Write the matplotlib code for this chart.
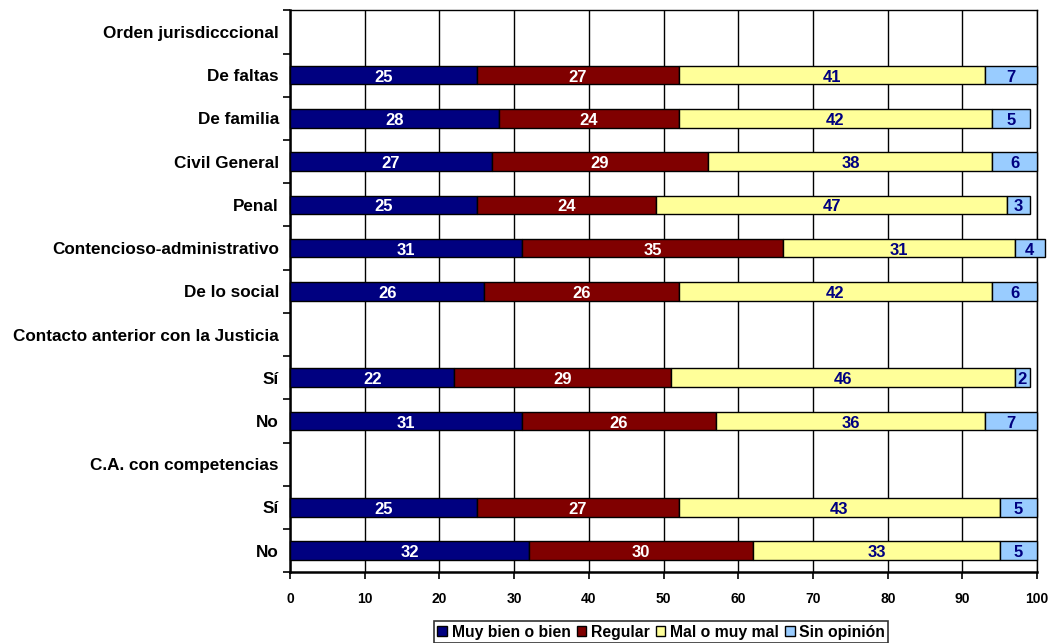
import numpy as np
import matplotlib
matplotlib.use("Agg")
import matplotlib.pyplot as plt
from matplotlib.ticker import FixedLocator, MultipleLocator

plt.rcParams['font.family'] = ['Liberation Sans', 'DejaVu Sans']
plt.rcParams['font.weight'] = 'bold'

categories = [
    "Orden jurisdicccional", "De faltas", "De familia", "Civil General", "Penal",
    "Contencioso-administrativo", "De lo social",
    "Contacto anterior con la Justicia", "Sí", "No",
    "C.A. con competencias", "Sí", "No",
]
# None marks heading rows that carry no bar
muy_bien = [None, 25, 28, 27, 25, 31, 26, None, 22, 31, None, 25, 32]
regular = [None, 27, 24, 29, 24, 35, 26, None, 29, 26, None, 27, 30]
mal = [None, 41, 42, 38, 47, 31, 42, None, 46, 36, None, 43, 33]
sin_opinion = [None, 7, 5, 6, 3, 4, 6, None, 2, 7, None, 5, 5]

series_names = ["Muy bien o bien", "Regular", "Mal o muy mal", "Sin opinión"]
series_values = [muy_bien, regular, mal, sin_opinion]
colors = ["#000080", "#800000", "#FFFF99", "#99CCFF"]
text_colors = ["white", "white", "#000080", "#000080"]

fig = plt.figure(figsize=(10.53, 6.43), dpi=100)
ax = fig.add_axes([0.2754, 0.110, 0.7096, 0.874])

n = len(categories)
y = np.arange(n)
left = np.zeros(n)
handles = []
for name, vals, col, tcol in zip(series_names, series_values, colors, text_colors):
    v = np.array([np.nan if x is None else x for x in vals], dtype=float)
    mask = ~np.isnan(v)
    bars = ax.barh(y[mask], v[mask], left=left[mask], height=0.43, color=col,
                   edgecolor="black", linewidth=1.0, clip_on=False, zorder=3,
                   label=name)
    handles.append(bars)
    for yi, li, vi in zip(y[mask], left[mask], v[mask]):
        ax.text(li + vi / 2, yi + 0.05, f"{vi:.0f}", ha="center", va="center",
                color=tcol, fontsize=12, fontweight="bold", zorder=4)
    left[mask] += v[mask]

ax.set_xlim(0, 100)
ax.set_ylim(n - 0.5, -0.5)
ax.xaxis.set_major_locator(MultipleLocator(10))
ax.grid(axis="x", color="black", linewidth=1.0, zorder=0)
ax.set_axisbelow(True)

ax.set_yticks(y)
ax.set_yticklabels(categories)
ax.yaxis.set_minor_locator(FixedLocator(np.arange(-0.5, n, 1.0)))
ax.tick_params(axis="y", which="major", length=0, pad=8, labelsize=12.3)
ax.tick_params(axis="y", which="minor", length=5, width=1.2, direction="out")
ax.tick_params(axis="x", which="major", length=5, width=1.2, direction="out",
               labelsize=10, pad=9)
for lbl in ax.get_xticklabels() + ax.get_yticklabels():
    lbl.set_fontweight("bold")

for side in ["top", "right"]:
    ax.spines[side].set_linewidth(1.0)
for side in ["left", "bottom"]:
    ax.spines[side].set_linewidth(1.8)

leg = fig.legend(handles=handles, labels=series_names, loc="center",
                 bbox_to_anchor=(0.628, 0.017), ncol=4, frameon=True,
                 fancybox=False, edgecolor="black", fontsize=11.3,
                 handlelength=0.6, handleheight=0.6, handletextpad=0.3,
                 columnspacing=0.4, borderpad=0.2, borderaxespad=0)
leg.get_frame().set_linewidth(1.2)
for t in leg.get_texts():
    t.set_fontweight("bold")

fig.savefig("out.png", dpi=100)
